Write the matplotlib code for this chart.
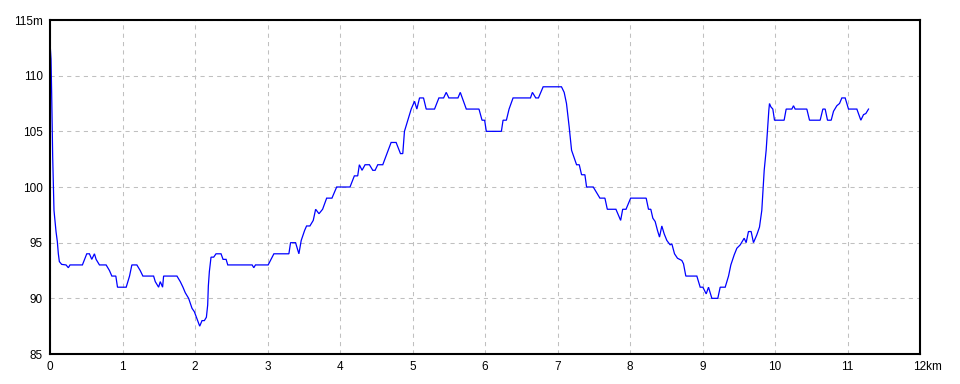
import matplotlib
matplotlib.use("Agg")
import matplotlib.pyplot as plt

dist_km = [
    0.000, 0.014, 0.023, 0.037, 0.055, 0.069, 0.083, 0.101, 0.115, 0.129, 0.161, 0.221,
    0.253, 0.276, 0.447, 0.507, 0.544, 0.576, 0.613, 0.636, 0.682, 0.774, 0.820, 0.853,
    0.908, 0.931, 1.051, 1.097, 1.129, 1.198, 1.244, 1.281, 1.429, 1.452, 1.498, 1.521,
    1.553, 1.567, 1.751, 1.797, 1.834, 1.866, 1.912, 1.959, 1.991, 2.037, 2.065, 2.097,
    2.129, 2.157, 2.175, 2.184, 2.198, 2.212, 2.221, 2.258, 2.290, 2.359, 2.387, 2.429,
    2.452, 2.788, 2.811, 2.834, 3.009, 3.088, 3.295, 3.318, 3.387, 3.433, 3.465, 3.512,
    3.539, 3.585, 3.631, 3.664, 3.710, 3.760, 3.816, 3.889, 3.954, 4.138, 4.198, 4.244,
    4.267, 4.304, 4.346, 4.406, 4.452, 4.484, 4.521, 4.590, 4.659, 4.705, 4.774, 4.834,
    4.866, 4.889, 4.935, 4.982, 5.028, 5.060, 5.097, 5.152, 5.189, 5.304, 5.364, 5.429,
    5.465, 5.502, 5.627, 5.659, 5.742, 5.917, 5.959, 5.995, 6.018, 6.226, 6.249, 6.295,
    6.332, 6.387, 6.627, 6.654, 6.700, 6.737, 6.802, 7.055, 7.092, 7.124, 7.161, 7.194,
    7.226, 7.263, 7.300, 7.332, 7.378, 7.401, 7.493, 7.585, 7.654, 7.687, 7.806, 7.871,
    7.899, 7.945, 8.009, 8.140, 8.223, 8.255, 8.287, 8.315, 8.347, 8.379, 8.407, 8.439,
    8.471, 8.508, 8.554, 8.577, 8.614, 8.655, 8.715, 8.738, 8.770, 8.922, 8.968, 9.005,
    9.051, 9.083, 9.129, 9.211, 9.244, 9.313, 9.359, 9.391, 9.437, 9.474, 9.520, 9.575,
    9.602, 9.634, 9.671, 9.703, 9.749, 9.786, 9.818, 9.851, 9.878, 9.897, 9.915, 9.924,
    9.943, 9.970, 9.993, 10.126, 10.154, 10.232, 10.255, 10.278, 10.439, 10.476, 10.623,
    10.660, 10.692, 10.724, 10.775, 10.807, 10.853, 10.890, 10.922, 10.968, 11.014,
    11.129, 11.184, 11.221, 11.253, 11.290,
]
elev_m = [
    113.0, 111.5, 108.4, 102.7, 97.9, 96.9, 96.0, 95.1, 94.0, 93.3, 93.05, 93.0,
    92.75, 93.0, 93.0, 94.0, 94.0, 93.5, 94.0, 93.5, 93.0, 93.0, 92.5, 92.0,
    92.0, 91.0, 91.0, 92.0, 93.0, 93.0, 92.5, 92.0, 92.0, 91.5, 91.0, 91.5,
    91.0, 92.0, 92.0, 91.5, 91.0, 90.5, 90.0, 89.1, 88.8, 88.0, 87.5, 88.0,
    88.0, 88.3, 89.4, 91.1, 92.4, 93.2, 93.7, 93.7, 94.0, 94.0, 93.5, 93.5,
    93.0, 93.0, 92.75, 93.0, 93.0, 94.0, 94.0, 95.0, 95.0, 94.0, 95.2, 96.1,
    96.5, 96.5, 97.0, 98.0, 97.6, 98.0, 99.0, 99.0, 100.0, 100.0, 101.0, 101.0,
    102.0, 101.5, 102.0, 102.0, 101.5, 101.5, 102.0, 102.0, 103.2, 104.0, 104.0, 103.0,
    103.0, 105.0, 106.0, 107.0, 107.7, 107.0, 108.0, 108.0, 107.0, 107.0, 108.0, 108.0,
    108.5, 108.0, 108.0, 108.5, 107.0, 107.0, 106.0, 106.0, 105.0, 105.0, 106.0, 106.0,
    107.0, 108.0, 108.0, 108.5, 108.0, 108.0, 109.0, 109.0, 108.5, 107.5, 105.4, 103.3,
    102.7, 102.0, 102.0, 101.1, 101.1, 100.0, 100.0, 99.0, 99.0, 98.0, 98.0, 97.0,
    98.0, 98.0, 99.0, 99.0, 99.0, 98.0, 98.0, 97.2, 96.9, 96.1, 95.5, 96.5,
    95.8, 95.2, 94.8, 94.9, 94.0, 93.6, 93.4, 93.1, 92.0, 92.0, 91.0, 91.0,
    90.4, 91.0, 90.0, 90.0, 91.0, 91.0, 92.0, 93.0, 93.9, 94.5, 94.8, 95.4,
    95.0, 96.0, 96.0, 95.0, 95.7, 96.4, 97.9, 101.5, 103.3, 105.1, 106.9, 107.5,
    107.2, 107.0, 106.0, 106.0, 107.0, 107.0, 107.3, 107.0, 107.0, 106.0, 106.0,
    107.0, 107.0, 106.0, 106.0, 106.8, 107.3, 107.5, 108.0, 108.0, 107.0,
    107.0, 106.0, 106.5, 106.6, 107.0,
]

x_ticks = list(range(0, 13))
x_tick_labels = [str(v) for v in range(0, 12)] + [""]
last_x_label = "12km"
y_ticks = [85, 90, 95, 100, 105, 110, 115]
y_tick_labels = ["85", "90", "95", "100", "105", "110", "115m"]

plt.rcParams["font.family"] = ["Liberation Sans", "DejaVu Sans"]

fig = plt.figure(figsize=(9.6, 3.84), dpi=100)
ax = fig.add_axes([50 / 960, 30 / 384, 870 / 960, 334 / 384])

ax.plot(dist_km, elev_m, color="#0000ff", linewidth=0.9, antialiased=True,
        solid_joinstyle="miter")

ax.set_xlim(0, 12)
ax.set_ylim(85, 115)
ax.set_xticks(x_ticks)
ax.set_xticklabels(x_tick_labels)
ax.set_yticks(y_ticks)
ax.set_yticklabels(y_tick_labels)
ax.tick_params(axis="both", length=0, labelsize=8.5, colors="black", pad=5)

ax.grid(True, color="#c0c0c0", linestyle=(0, (4, 4)), linewidth=0.75)
ax.set_axisbelow(True)
for sp in ax.spines.values():
    sp.set_linewidth(1.5)
    sp.set_color("black")

# last x label with unit, "12" centred near its tick
ax.annotate(last_x_label, xy=(12, 85), xycoords="data", xytext=(-5, -5),
            textcoords="offset points", ha="left", va="top", fontsize=8.5,
            annotation_clip=False)

fig.savefig("out.png", dpi=100)
